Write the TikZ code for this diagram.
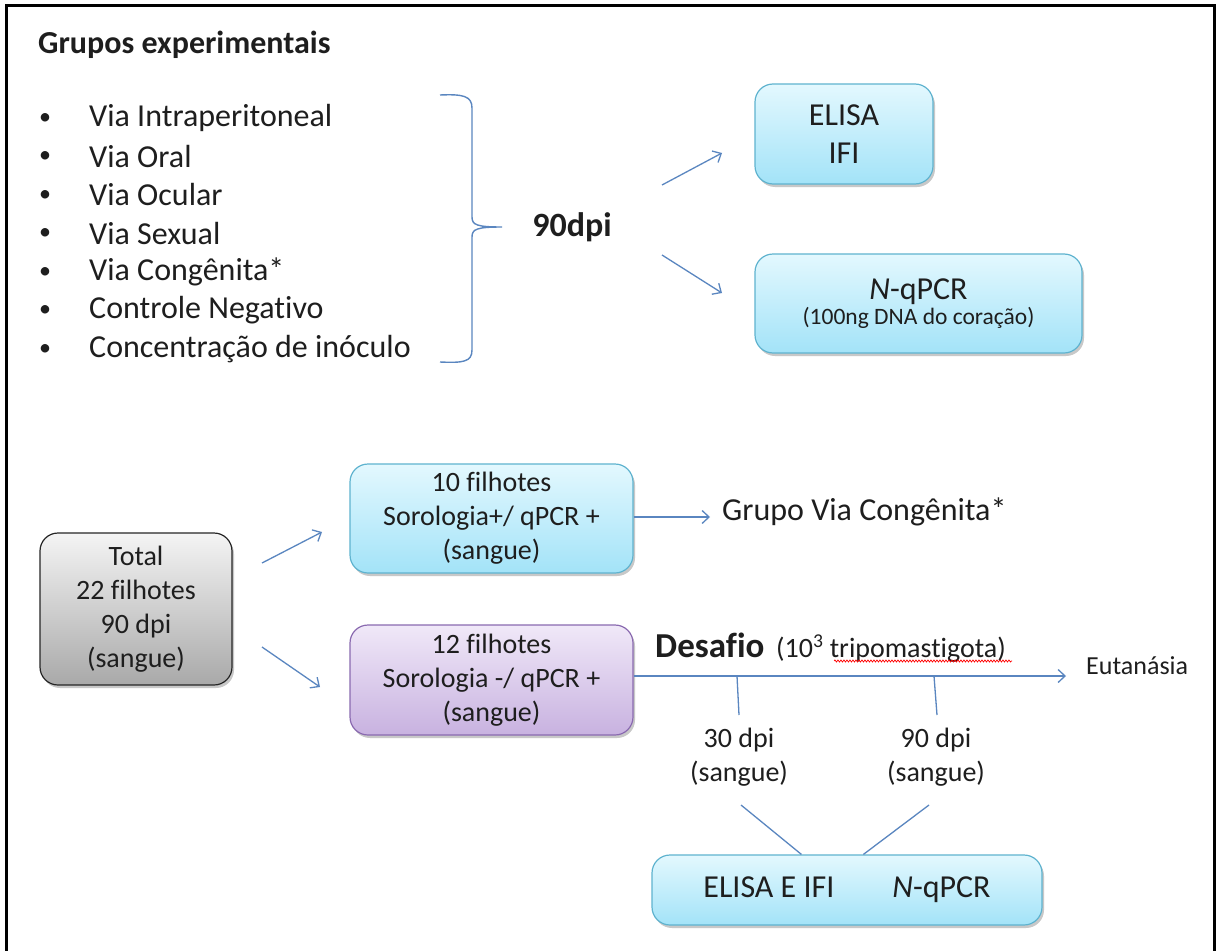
\documentclass[tikz,border=0pt]{standalone}
\usepackage{fontspec}
\setmainfont{Carlito}[Ligatures=NoCommon]
\usetikzlibrary{arrows.meta,shadows,decorations.pathmorphing,calc}
\definecolor{txt}{HTML}{1E1E1E}
\definecolor{arrowblue}{HTML}{5A86C0}
\definecolor{cyantop}{HTML}{E3F8FE}
\definecolor{cyanbot}{HTML}{A3E3F8}
\definecolor{cyanborder}{HTML}{5FB3CF}
\definecolor{purtop}{HTML}{F0E8F8}
\definecolor{purbot}{HTML}{C8B2E0}
\definecolor{purborder}{HTML}{8A6AB0}
\definecolor{graytop}{HTML}{F4F4F4}
\definecolor{graybot}{HTML}{A9A9A9}
\tikzset{
  basebox/.style={rounded corners=18pt, line width=1.2pt, align=center, inner sep=0pt, text=txt,
    drop shadow={shadow xshift=2pt, shadow yshift=-3pt, opacity=0.3, fill=black!70}},
  cyanbox/.style={basebox, draw=cyanborder, top color=cyantop, bottom color=cyanbot},
  purbox/.style={basebox, draw=purborder, top color=purtop, bottom color=purbot},
  graybox/.style={basebox, draw=black!85, top color=graytop, bottom color=graybot},
  big/.style={font=\fontsize{32}{38.5}\selectfont},
  mid/.style={font=\fontsize{28}{34}\selectfont},
  lbl/.style={text=txt, inner sep=0pt, align=center},
  conn/.style={draw=arrowblue, line width=1.3pt},
  arr/.style={conn, -{Straight Barb[length=7pt,width=13pt,line width=1.3pt]}},
}
\begin{document}
\begin{tikzpicture}[x=1pt,y=-1pt]
\useasboundingbox (0,0) rectangle (1220,950);
\fill[white] (0,0) rectangle (1220,950);
\draw[line width=3pt] (6,952) -- (6,6) -- (1214,6) -- (1214,952);

% title and list
\node[lbl, anchor=west, font=\fontsize{32}{38}\selectfont\bfseries] (title) at (38,45) {Grupos experimentais};
\foreach \i/\t in {0/Via Intraperitoneal,1/Via Oral,2/Via Ocular,3/Via Sexual,4/Via Congênita*,5/Controle Negativo,6/Concentração de inóculo}{
  \node[lbl, font=\fontsize{24}{28}\selectfont] (bul\i) at (45,{119+38.5*\i}) {•};
  \node[lbl, big, anchor=west] (item\i) at (89,{118+38.5*\i}) {\t};
}

% brace
\draw[conn, line width=1.4pt] (440,95) .. controls (463,94) and (472,96) .. (472,108) -- (472,217)
  .. controls (472,225) and (477,227) .. (502,227)
  .. controls (477,227) and (472,229) .. (472,237) -- (472,350)
  .. controls (472,362) and (463,363) .. (440,362);

\node[lbl, font=\fontsize{34}{40}\selectfont\bfseries] (n90) at (572,227) {90dpi};

% top boxes
\node[cyanbox, big, minimum width=178pt, minimum height=100pt] (elisa) at (844,134) {ELISA\\IFI};
\node[cyanbox, minimum width=327pt, minimum height=99pt] (npcr) at (918.5,303.5)
  {{\fontsize{32}{34}\selectfont\textit{N}-qPCR}\\[2pt]{\fontsize{23.5}{26}\selectfont(100ng DNA do coração)}};

\coordinate (a1s) at (662,185); \coordinate (a1e) at (722,153);
\coordinate (a2s) at (662,255); \coordinate (a2e) at (722,293);
\draw[arr] (a1s) -- (a1e);
\draw[arr] (a2s) -- (a2e);

% bottom
\node[graybox, mid, minimum width=192pt, minimum height=152pt] (total) at (136,609)
  {Total\\22 filhotes\\90 dpi\\(sangue)};
\node[cyanbox, mid, minimum width=283pt, minimum height=109pt] (b10) at (491.5,518.5)
  {10 filhotes\\Sorologia+/ qPCR +\\(sangue)};
\node[purbox, mid, minimum width=283pt, minimum height=110pt] (b12) at (491.5,680)
  {12 filhotes\\Sorologia -/ qPCR +\\(sangue)};

\coordinate (a3s) at (262,563); \coordinate (a3e) at (322,532);
\coordinate (a4s) at (262,647); \coordinate (a4e) at (320,687);
\draw[arr] (a3s) -- (a3e);
\draw[arr] (a4s) -- (a4e);

\node[lbl, big, anchor=west] (grupo) at (722,512) {Grupo Via Congênita*};
\coordinate (gend) at (710,517);
\draw[arr] (b10.east |- gend) -- (gend);

% timeline
\node[lbl, font=\fontsize{26}{30}\selectfont, anchor=west] (eut) at (1086,666) {Eutanásia};
\coordinate (tend) at (1066,676);
\draw[arr] (b12.east |- tend) -- (tend);

\node[lbl, font=\fontsize{35}{40}\selectfont\bfseries, anchor=base west] (desafio) at (655,657) {Desafio};
\node[lbl, font=\fontsize{28}{32}\selectfont, anchor=base west] (inoc) at (776,657) {(10\textsuperscript{3} tripomastigota)};
\draw[red, line width=0.7pt, decorate, decoration={snake, amplitude=1pt, segment length=3pt}] (834,661) -- (1012,661);

\node[lbl, mid] (d30) at (739,757) {30 dpi\\(sangue)};
\node[lbl, mid] (d90) at (936,757) {90 dpi\\(sangue)};

\coordinate (t30a) at (737,676); \coordinate (t30b) at (739,715);
\coordinate (t90a) at (934,676); \coordinate (t90b) at (937,715);
\draw[conn] (t30a) -- (t30b);
\draw[conn] (t90a) -- (t90b);

\node[cyanbox, minimum width=390pt, minimum height=70pt, font=\fontsize{32}{38}\selectfont] (final) at (847,890)
  {ELISA E IFI\hspace{58pt}\textit{N}-qPCR};

\coordinate (l30) at (741,805); \coordinate (l90) at (929,805);
\draw[conn] (l30) -- ($(final.north west)+(150,0)$);
\draw[conn] (l90) -- ($(final.north west)+(212,0)$);
\end{tikzpicture}
\end{document}
